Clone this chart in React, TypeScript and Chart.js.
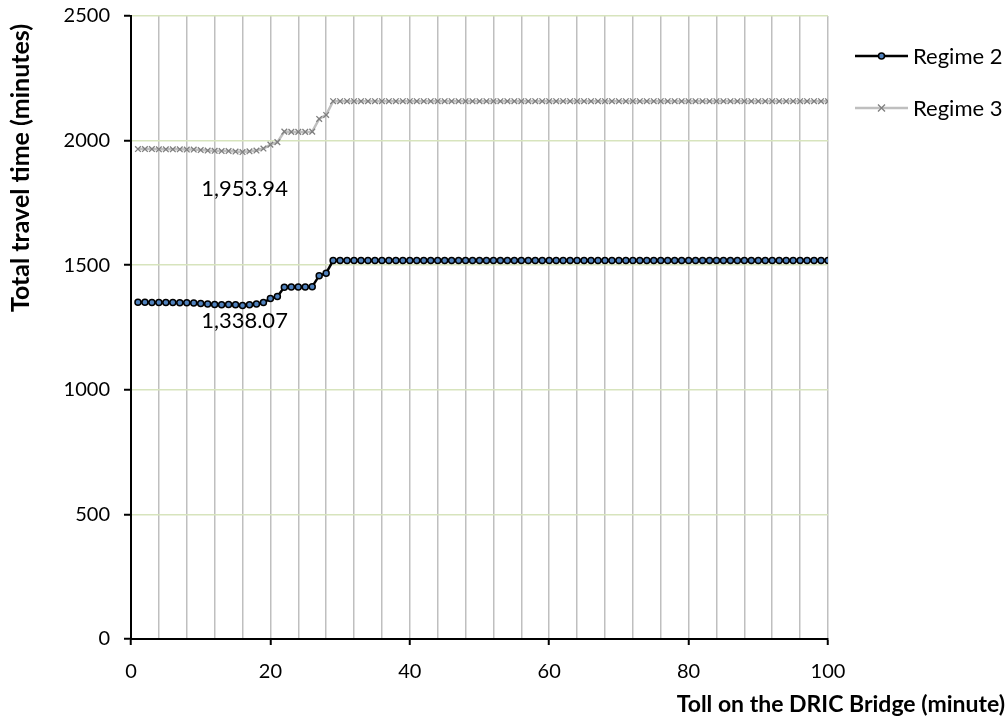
import React, { useEffect, useRef } from "react";
import { Chart, registerables } from "chart.js";

Chart.register(...registerables);

const tolls = [
  1, 2, 3, 4, 5, 6, 7, 8, 9, 10, 11, 12, 13, 14, 15, 16, 17, 18, 19, 20,
  21, 22, 23, 24, 25, 26, 27, 28, 29, 30, 31, 32, 33, 34, 35, 36, 37, 38, 39, 40,
  41, 42, 43, 44, 45, 46, 47, 48, 49, 50, 51, 52, 53, 54, 55, 56, 57, 58, 59, 60,
  61, 62, 63, 64, 65, 66, 67, 68, 69, 70, 71, 72, 73, 74, 75, 76, 77, 78, 79, 80,
  81, 82, 83, 84, 85, 86, 87, 88, 89, 90, 91, 92, 93, 94, 95, 96, 97, 98, 99, 100,
];

const regime2 = [
  1351, 1351, 1350, 1350, 1350, 1350, 1349, 1349, 1348, 1346, 1344, 1342, 1341, 1342,
  1341, 1338.07, 1341, 1344, 1350, 1366, 1374, 1412, 1413, 1413, 1413, 1414, 1458, 1468,
  1519, 1519, 1519, 1519, 1519, 1519, 1519, 1519, 1519, 1519, 1519, 1519,
  1519, 1519, 1519, 1519, 1519, 1519, 1519, 1519, 1519, 1519, 1519, 1519,
  1519, 1519, 1519, 1519, 1519, 1519, 1519, 1519, 1519, 1519, 1519, 1519,
  1519, 1519, 1519, 1519, 1519, 1519, 1519, 1519, 1519, 1519, 1519, 1519,
  1519, 1519, 1519, 1519, 1519, 1519, 1519, 1519, 1519, 1519, 1519, 1519,
  1519, 1519, 1519, 1519, 1519, 1519, 1519, 1519, 1519, 1519, 1519, 1519,
];

const regime3 = [
  1966, 1966, 1966, 1965, 1965, 1965, 1965, 1964, 1964, 1962, 1960, 1959, 1958, 1958,
  1956, 1953.94, 1957, 1960, 1968, 1984, 1994, 2036, 2035, 2035, 2035, 2036, 2087, 2103,
  2158, 2158, 2158, 2158, 2158, 2158, 2158, 2158, 2158, 2158, 2158, 2158,
  2158, 2158, 2158, 2158, 2158, 2158, 2158, 2158, 2158, 2158, 2158, 2158,
  2158, 2158, 2158, 2158, 2158, 2158, 2158, 2158, 2158, 2158, 2158, 2158,
  2158, 2158, 2158, 2158, 2158, 2158, 2158, 2158, 2158, 2158, 2158, 2158,
  2158, 2158, 2158, 2158, 2158, 2158, 2158, 2158, 2158, 2158, 2158, 2158,
  2158, 2158, 2158, 2158, 2158, 2158, 2158, 2158, 2158, 2158, 2158, 2158,
];

const seriesNames = ["Regime 2", "Regime 3"];
const minToll = 16;
const minLabels = ["1,338.07", "1,953.94"];
const yTitle = "Total travel time (minutes)";
const xTitle = "Toll on the DRIC Bridge (minute)";

const FONT = "Lato, 'Open Sans', sans-serif";

export default function App() {
  const ref = useRef<HTMLCanvasElement | null>(null);

  useEffect(() => {
    if (!ref.current) return;
    const overlay = {
      id: "overlay",
      afterDraw(chart: any) {
        const c = chart.ctx;
        const xs = chart.scales.x;
        const ys = chart.scales.y;
        c.save();
        c.fillStyle = "#000";
        c.textAlign = "center";
        c.textBaseline = "middle";
        // y title
        c.save();
        c.font = `bold 25px ${FONT}`;
        c.translate(21, 168);
        c.rotate(-Math.PI / 2);
        c.fillText(yTitle, 0, 0);
        c.restore();
        // x title
        c.font = `bold 23px ${FONT}`;
        c.textAlign = "right";
        c.fillText(xTitle, 1005, 705);

        // min data labels
        c.font = `22px ${FONT}`;
        c.textAlign = "center";
        const idx = tolls.indexOf(minToll);
        const px = xs.getPixelForValue(minToll);
        c.fillText(minLabels[0], px + 2, ys.getPixelForValue(regime2[idx]) + 15);
        c.fillText(minLabels[1], px + 2, ys.getPixelForValue(regime3[idx]) + 37);

        // legend
        const items = [
          { y: 56, color: "#000", lw: 2.5, marker: "circle" },
          { y: 108, color: "#bfbfbf", lw: 2.5, marker: "cross" },
        ];
        c.font = `22px ${FONT}`;
        c.textAlign = "left";
        items.forEach((it, i) => {
          c.strokeStyle = it.color;
          c.lineWidth = it.lw;
          c.beginPath();
          c.moveTo(855, it.y);
          c.lineTo(908, it.y);
          c.stroke();
          if (it.marker === "circle") {
            c.beginPath();
            c.arc(881.5, it.y, 3, 0, Math.PI * 2);
            c.fillStyle = "#4f81bd";
            c.fill();
            c.lineWidth = 1.5;
            c.strokeStyle = "#000";
            c.stroke();
          } else {
            c.strokeStyle = "#7f7f7f";
            c.lineWidth = 1.3;
            c.beginPath();
            c.moveTo(878, it.y - 3.5);
            c.lineTo(885, it.y + 3.5);
            c.moveTo(885, it.y - 3.5);
            c.lineTo(878, it.y + 3.5);
            c.stroke();
          }
          c.fillStyle = "#000";
          c.textBaseline = "middle";
          c.fillText(seriesNames[i], 913, it.y + 1);
        });
        c.restore();
      },
    };

    const chart = new Chart(ref.current, {
      type: "line",
      data: {
        labels: tolls,
        datasets: [
          {
            label: seriesNames[1],
            data: tolls.map((t, i) => ({ x: t, y: regime3[i] })),
            borderColor: "#bfbfbf",
            borderWidth: 2.5,
            pointStyle: "crossRot",
            pointRadius: 4,
            pointBorderColor: "#7f7f7f",
            pointBorderWidth: 1.3,
            pointBackgroundColor: "#7f7f7f",
            tension: 0,
          },
          {
            label: seriesNames[0],
            data: tolls.map((t, i) => ({ x: t, y: regime2[i] })),
            borderColor: "#000",
            borderWidth: 2.5,
            pointStyle: "circle",
            pointRadius: 3,
            pointBorderColor: "#000",
            pointBorderWidth: 1.5,
            pointBackgroundColor: "#4f81bd",
            tension: 0,
          },
        ],
      },
      options: {
        responsive: false,
        animation: false,
        events: [],
        layout: { padding: { left: 0, top: 16, right: 180, bottom: 0 } },
        plugins: { legend: { display: false }, tooltip: { enabled: false } },
        scales: {
          x: {
            type: "linear",
            min: 0,
            max: 100,
            afterFit: (s: any) => {
              s.height = 82;
              s.paddingLeft = 0;
              s.paddingRight = 0;
            },
            afterBuildTicks: (s: any) => {
              const t = [];
              for (let v = 0; v <= 100; v += 4) t.push({ value: v });
              s.ticks = t;
            },
            ticks: {
              autoSkip: false,
              maxRotation: 0,
              padding: 15,
              color: "#000",
              font: { family: FONT, size: 20 },
              callback: (v: any) => (Number(v) % 20 === 0 ? String(v) : ""),
            },
            grid: {
              color: (ctx: any) =>
                ctx.tick && ctx.tick.value === 0 ? "rgba(0,0,0,0)" : "#bfbfbf",
              lineWidth: 1.5,
              tickLength: 6,
              tickColor: (ctx: any) =>
                ctx.tick && ctx.tick.value % 20 === 0 ? "#000" : "rgba(0,0,0,0)",
              tickWidth: 2,
            },
            border: { display: true, color: "#000", width: 2 },
          },
          y: {
            type: "linear",
            min: 0,
            max: 2500,
            afterFit: (s: any) => {
              s.width = 131;
              s.paddingTop = 0;
              s.paddingBottom = 0;
            },
            ticks: {
              stepSize: 500,
              padding: 14,
              color: "#000",
              font: { family: FONT, size: 20 },
              callback: (v: any) => String(v),
            },
            grid: {
              color: (ctx: any) =>
                ctx.tick && ctx.tick.value === 0 ? "rgba(0,0,0,0)" : "#d7e4bd",
              lineWidth: 1.5,
              tickLength: 7,
              tickColor: "#000",
              tickWidth: 2,
            },
            border: { display: true, color: "#000", width: 2 },
          },
        },
      },
      plugins: [overlay],
    });
    return () => chart.destroy();
  }, []);

  return (
    <div style={{ position: "fixed", left: 0, top: 0, width: 1008, height: 721, background: "#fff" }}>
      <canvas ref={ref} width={1008} height={721} style={{ display: "block" }} />
    </div>
  );
}
